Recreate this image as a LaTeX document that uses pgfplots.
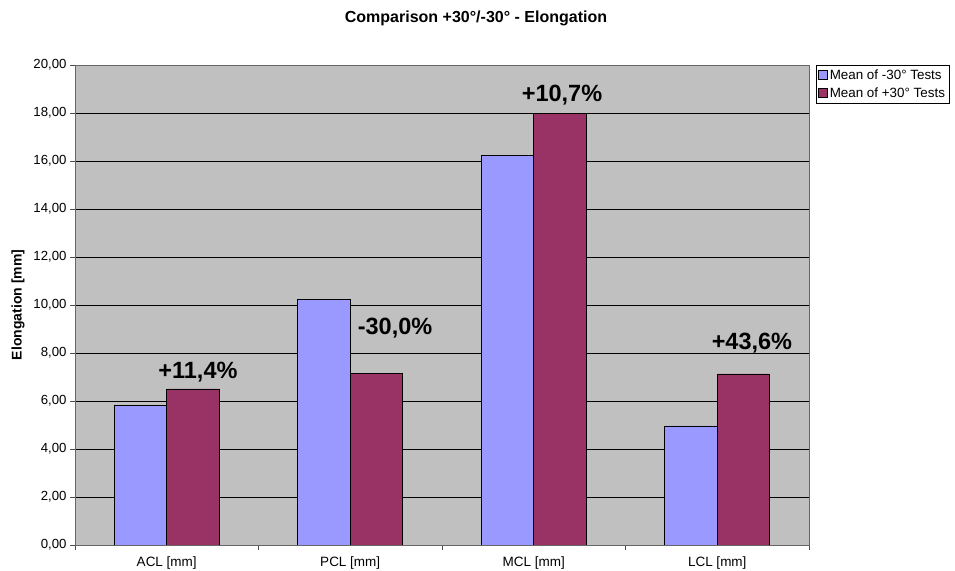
\documentclass[border=0pt]{standalone}
\usepackage{pgfplots}
\pgfplotsset{compat=1.18}
\usepackage{fontspec}
\setmainfont{Liberation Sans}
\definecolor{barA}{HTML}{9999FF}
\definecolor{barB}{HTML}{993366}
\definecolor{plotbg}{HTML}{C0C0C0}
\begin{document}
\begin{tikzpicture}
\path[use as bounding box] (-75bp,-26bp) rectangle (880bp,545bp);
\begin{axis}[
  at={(0,0)}, anchor=south west,
  scale only axis, width=734bp, height=480bp,
  xmin=-0.5, xmax=3.5, ymin=0, ymax=20,
  axis background/.style={fill=plotbg},
  axis line style={draw=black!60},
  ybar=0pt, bar width=52.5bp,
  xtick={0,1,2,3},
  xticklabels={ACL [mm],PCL [mm],MCL [mm],LCL [mm]},
  major x tick style={draw=none},
  minor xtick={-0.5,0.5,1.5,2.5,3.5},
  minor x tick style={draw=black!70},
  minor tick length=5bp,
  ytick={0,2,...,20},
  major tick length=5bp,
  tick align=outside,
  y tick style={draw=black!70},
  xtick pos=bottom, ytick pos=left,
  ymajorgrids, grid style={draw=black, line width=0.6pt},
  yticklabel style={font=\fontsize{13.2bp}{15bp}\selectfont, /pgf/number format/.cd, fixed, fixed zerofill, precision=2, use comma, assume math mode=true},
  xticklabel style={font=\fontsize{13.5bp}{15bp}\selectfont, yshift=-3bp},
  legend style={at={(rel axis cs:1.0095,1)}, anchor=north west, draw=black, fill=white,
    font=\fontsize{13.4bp}{16bp}\selectfont, inner xsep=2bp, inner ysep=2.5bp, row sep=2.5bp},
  legend cell align=left,
  legend image code/.code={\draw[#1, draw=black] (0bp,-4.5bp) rectangle (9bp,4.5bp);},
]
\addplot[fill=barA, draw=black, line width=0.6pt] coordinates {(0,5.83) (1,10.22) (2,16.22) (3,4.96)};
\addlegendentry{Mean of -30° Tests}
\addplot[fill=barB, draw=black, line width=0.6pt] coordinates {(0,6.50) (1,7.16) (2,17.97) (3,7.13)};
\addlegendentry{Mean of +30° Tests}
\node[font=\bfseries\fontsize{23.5bp}{27bp}\selectfont] at (axis cs:0.170,7.2) {+11,4\%};
\node[font=\bfseries\fontsize{23.5bp}{27bp}\selectfont] at (axis cs:1.244,9.04) {-30,0\%};
\node[font=\bfseries\fontsize{23.5bp}{27bp}\selectfont] at (axis cs:2.154,18.75) {+10,7\%};
\node[font=\bfseries\fontsize{23.5bp}{27bp}\selectfont] at (axis cs:3.189,8.4) {+43,6\%};
\end{axis}
\node[font=\bfseries\fontsize{16bp}{19bp}\selectfont] at (401bp,527bp) {Comparison +30°/-30° - Elongation};
\node[rotate=90, font=\bfseries\fontsize{14bp}{16bp}\selectfont] at (-57bp,240bp) {Elongation [mm]};
\end{tikzpicture}
\end{document}
